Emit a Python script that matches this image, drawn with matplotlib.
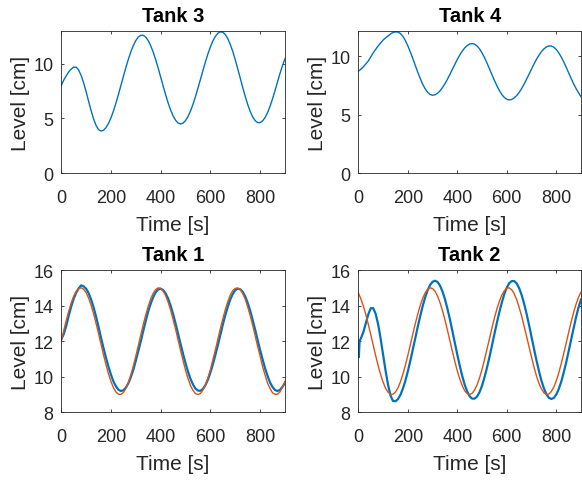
import numpy as np
import matplotlib
matplotlib.use('Agg')
import matplotlib.pyplot as plt

# sample times [s], every 10 s
t_grid = list(range(0, 901, 10))

# Tank 3 level [cm]
tank3 = [8.0, 8.5, 8.9, 9.25, 9.5, 9.68, 9.67, 9.41, 8.92, 8.24,
         7.43, 6.56, 5.71, 4.95, 4.36, 3.98, 3.85, 3.93, 4.17, 4.55,
         5.06, 5.69, 6.41, 7.20, 8.02, 8.85, 9.66, 10.41, 11.09, 11.66,
         12.11, 12.43, 12.58, 12.58, 12.41, 12.09, 11.62, 11.03, 10.34, 9.57,
         8.76, 7.94, 7.14, 6.41, 5.76, 5.23, 4.83, 4.58, 4.50, 4.58,
         4.81, 5.18, 5.69, 6.30, 7.01, 7.78, 8.58, 9.38, 10.17, 10.89,
         11.53, 12.08, 12.49, 12.77, 12.89, 12.86, 12.65, 12.27, 11.74, 11.10,
         10.34, 9.52, 8.67, 7.82, 7.01, 6.27, 5.64, 5.14, 4.80, 4.62,
         4.62, 4.78, 5.09, 5.54, 6.12, 6.80, 7.55, 8.34, 9.12, 9.82,
         10.45]

# Tank 4 level [cm]
tank4 = [8.73, 8.9, 9.1, 9.35, 9.6, 9.95, 10.3, 10.6, 10.9, 11.15,
         11.4, 11.58, 11.75, 11.92, 12.05, 12.1, 12.08, 11.96, 11.71, 11.36,
         10.91, 10.39, 9.83, 9.24, 8.66, 8.12, 7.63, 7.23, 6.93, 6.74,
         6.68, 6.72, 6.85, 7.05, 7.33, 7.66, 8.04, 8.46, 8.89, 9.32,
         9.74, 10.12, 10.45, 10.73, 10.93, 11.06, 11.1, 11.05, 10.89, 10.64,
         10.30, 9.90, 9.43, 8.94, 8.44, 7.95, 7.49, 7.08, 6.74, 6.49,
         6.33, 6.28, 6.32, 6.45, 6.65, 6.92, 7.25, 7.63, 8.05, 8.48,
         8.92, 9.35, 9.75, 10.10, 10.41, 10.64, 10.81, 10.89, 10.89, 10.79,
         10.59, 10.31, 9.95, 9.54, 9.08, 8.60, 8.12, 7.66, 7.25, 6.89,
         6.55]

# Tank 1 measured level and reference [cm]
tank1 = [12.1, 12.4, 12.86, 13.43, 13.95, 14.39, 14.73, 14.97, 15.14, 15.08,
         14.95, 14.70, 14.35, 13.90, 13.38, 12.80, 12.18, 11.61, 11.06, 10.56,
         10.11, 9.73, 9.46, 9.27, 9.20, 9.24, 9.39, 9.64, 9.99, 10.40,
         10.91, 11.45, 12.00, 12.59, 13.15, 13.69, 14.12, 14.48, 14.75, 14.91,
         14.95, 14.87, 14.68, 14.39, 13.99, 13.52, 12.98, 12.41, 11.83, 11.28,
         10.75, 10.28, 9.87, 9.56, 9.33, 9.22, 9.21, 9.32, 9.53, 9.84,
         10.24, 10.71, 11.23, 11.78, 12.36, 12.94, 13.47, 13.94, 14.35, 14.66,
         14.87, 14.95, 14.92, 14.77, 14.52, 14.15, 13.71, 13.19, 12.64, 12.06,
         11.50, 10.97, 10.46, 10.04, 9.67, 9.42, 9.25, 9.20, 9.26, 9.44,
         9.65]
tank1_ref = [12.00, 12.60, 13.17, 13.69, 14.15, 14.53, 14.80, 14.96, 15.00, 14.92,
             14.73, 14.42, 14.02, 13.54, 13.00, 12.42, 11.82, 11.23, 10.67, 10.16,
             9.73, 9.38, 9.14, 9.02, 9.01, 9.12, 9.35, 9.68, 10.11, 10.61,
             11.17, 11.76, 12.36, 12.95, 13.49, 13.97, 14.39, 14.70, 14.91, 15.00,
             14.97, 14.81, 14.56, 14.19, 13.74, 13.21, 12.66, 12.06, 11.47, 10.90,
             10.36, 9.90, 9.50, 9.23, 9.05, 9.00, 9.07, 9.26, 9.53, 9.95,
             10.40, 10.96, 11.52, 12.12, 12.71, 13.27, 13.78, 14.23, 14.60, 14.85,
             14.97, 14.99, 14.90, 14.67, 14.37, 13.92, 13.44, 12.89, 12.30, 11.70,
             11.15, 10.56, 10.09, 9.63, 9.34, 9.09, 9.01, 9.02, 9.15, 9.43,
             9.75]

# Tank 2 measured level (own time stamps) and reference [cm]
t_tank2 = [0, 2, 5] + list(range(10, 901, 10))
tank2 = [12.0, 11.1, 12.0,
         12.15, 12.5, 13.0, 13.5, 13.85, 13.86, 13.54, 12.95, 12.16,
         11.25, 10.34, 9.55, 8.95, 8.64, 8.62, 8.74, 8.98, 9.33, 9.77,
         10.30, 10.89, 11.52, 12.16, 12.80, 13.41, 13.97, 14.46, 14.86, 15.16,
         15.34, 15.40, 15.33, 15.13, 14.80, 14.37, 13.83, 13.24, 12.58, 11.91,
         11.24, 10.61, 10.04, 9.55, 9.17, 8.90, 8.77, 8.77, 8.89, 9.14,
         9.50, 9.97, 10.51, 11.11, 11.75, 12.40, 13.04, 13.64, 14.18, 14.65,
         15.01, 15.26, 15.38, 15.38, 15.25, 14.98, 14.60, 14.11, 13.54, 12.91,
         12.24, 11.57, 10.92, 10.32, 9.78, 9.35, 9.02, 8.82, 8.75, 8.81,
         9.00, 9.31, 9.72, 10.23, 10.80, 11.43, 12.08, 12.72, 13.35, 13.90,
         14.35]
tank2_ref = [14.72, 14.39, 13.99, 13.51, 12.96, 12.38, 11.78, 11.19, 10.63, 10.13,
             9.70, 9.36, 9.13, 9.01, 9.02, 9.14, 9.37, 9.71, 10.14, 10.64,
             11.20, 11.79, 12.39, 12.97, 13.52, 14.00, 14.41, 14.71, 14.91, 15.00,
             14.96, 14.81, 14.54, 14.17, 13.72, 13.20, 12.63, 12.03, 11.44, 10.86,
             10.33, 9.88, 9.50, 9.21, 9.05, 9.00, 9.07, 9.26, 9.55, 9.95,
             10.42, 10.97, 11.55, 12.14, 12.74, 13.30, 13.81, 14.25, 14.59, 14.84,
             14.98, 15.00, 14.89, 14.67, 14.34, 13.90, 13.41, 12.84, 12.28, 11.68,
             11.10, 10.54, 10.04, 9.63, 9.32, 9.10, 9.00, 9.03, 9.17, 9.42,
             9.77, 10.22, 10.73, 11.30, 11.89, 12.49, 13.07, 13.61, 14.08, 14.47,
             14.76]

blue = '#0072BD'
red = '#D95319'
grey = '#262626'

plt.rcParams['font.family'] = ['Liberation Sans', 'DejaVu Sans']
plt.rcParams['text.color'] = grey
plt.rcParams['axes.labelcolor'] = grey
plt.rcParams['xtick.color'] = grey
plt.rcParams['ytick.color'] = grey

fig = plt.figure(figsize=(5.82, 4.81), dpi=100)

# [left, bottom, width, height] in figure fractions
positions = {
    'Tank 3': [0.1053, 0.6376, 0.3844, 0.2965],
    'Tank 4': [0.6157, 0.6376, 0.3826, 0.2965],
    'Tank 1': [0.1053, 0.1407, 0.3844, 0.2958],
    'Tank 2': [0.6157, 0.1407, 0.3826, 0.2958],
}

def style(ax, title, ylim, yticks):
    ax.set_xlim(0, 900)
    ax.set_ylim(*ylim)
    ax.set_xticks([0, 200, 400, 600, 800])
    ax.set_yticks(yticks)
    ax.tick_params(direction='in', top=True, right=True, labelsize=13,
                   length=2.2, width=0.6)
    ax.tick_params(axis='x', pad=11)
    ax.tick_params(axis='y', pad=5.5)
    for sp in ax.spines.values():
        sp.set_color(grey)
        sp.set_linewidth(0.6)
    ax.set_title(title, fontsize=14.5, fontweight='bold', color='black', pad=7)
    ax.set_xlabel('Time [s]', fontsize=15, labelpad=6.5)
    ax.set_ylabel('Level [cm]', fontsize=15, labelpad=2.5)

ax = fig.add_axes(positions['Tank 3'])
ax.plot(t_grid, tank3, color=blue, lw=1.0)
style(ax, 'Tank 3', (0, 13), [0, 5, 10])

ax = fig.add_axes(positions['Tank 4'])
ax.plot(t_grid, tank4, color=blue, lw=1.0)
style(ax, 'Tank 4', (0, 12.2), [0, 5, 10])

ax = fig.add_axes(positions['Tank 1'])
ax.plot(t_grid, tank1, color=blue, lw=1.6)
ax.plot(t_grid, tank1_ref, color=red, lw=1.0)
style(ax, 'Tank 1', (8, 16), [8, 10, 12, 14, 16])

ax = fig.add_axes(positions['Tank 2'])
ax.plot(t_tank2, tank2, color=blue, lw=1.6)
ax.plot(t_grid, tank2_ref, color=red, lw=1.0)
style(ax, 'Tank 2', (8, 16), [8, 10, 12, 14, 16])

fig.savefig('out.png', dpi=100)
